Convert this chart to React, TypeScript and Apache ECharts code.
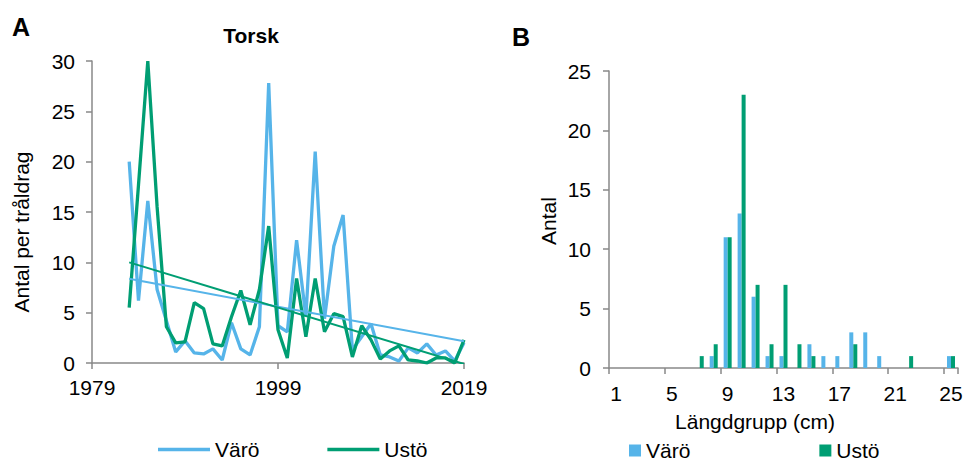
import React, { useEffect, useRef } from 'react';
import * as echarts from 'echarts';

// Panel A: catch per trawl haul (Torsk), 1983–2019
const years = [
  1983, 1984, 1985, 1986, 1987, 1988, 1989, 1990, 1991, 1992,
  1993, 1994, 1995, 1996, 1997, 1998, 1999, 2000, 2001, 2002,
  2003, 2004, 2005, 2006, 2007, 2008, 2009, 2010, 2011, 2012,
  2013, 2014, 2015, 2016, 2017, 2018, 2019,
];
const varoCatch = [
  20.0, 6.2, 16.1, 7.3, 4.2, 1.1, 2.2, 1.0, 0.9, 1.4,
  0.3, 4.0, 1.4, 0.8, 3.6, 27.8, 3.7, 3.1, 12.2, 4.6,
  21.0, 4.4, 11.6, 14.7, 1.3, 2.6, 3.9, 0.8, 0.6, 0.2,
  1.5, 1.0, 1.9, 0.8, 1.2, 0.2, 2.0,
];
const ustoCatch = [
  5.5, 17.7, 30.0, 15.5, 3.6, 2.0, 2.1, 6.0, 5.4, 1.9,
  1.7, 4.6, 7.2, 3.8, 7.3, 13.6, 3.3, 0.5, 8.4, 2.6,
  8.4, 3.1, 4.9, 4.6, 0.6, 3.7, 2.3, 0.4, 1.2, 1.7,
  0.3, 0.2, 0.0, 0.5, 0.5, 0.0, 2.3,
];
const trendYears = [1983, 2019];
const varoTrend = [8.36, 2.15];
const ustoTrend = [10.0, -0.1];
const yearTicks = [1979, 2019];

// Panel B: length distribution
const lengthGroups = [
  '1', '2', '3', '4', '5', '6', '7', '8', '9', '10', '11', '12', '13',
  '14', '15', '16', '17', '18', '19', '20', '21', '22', '23', '24', '25',
];
const varoLength = [0, 0, 0, 0, 0, 0, 0, 1, 11, 13, 6, 1, 1, 0, 2, 1, 1, 3, 3, 1, 0, 0, 0, 0, 1];
const ustoLength = [0, 0, 0, 0, 0, 0, 1, 2, 11, 23, 7, 2, 7, 2, 1, 0, 0, 2, 0, 0, 0, 1, 0, 0, 1];

const BLUE = '#56B4E9';
const GREEN = '#009E73';
const AXIS = '#898989';
const FONT = 'Liberation Sans, Arial, sans-serif';

export default function App() {
  const ref = useRef<HTMLDivElement>(null);

  useEffect(() => {
    if (!ref.current) return;
    const chart = echarts.init(ref.current, undefined, { renderer: 'svg' });

    const axisLine = { show: true, lineStyle: { color: AXIS, width: 1.5 } };
    const axisTick = { show: true, length: 6, lineStyle: { color: AXIS, width: 1.5 } };
    const label = { fontSize: 21, color: '#000', fontFamily: FONT };
    const legendText = { fontSize: 21, color: '#000', fontFamily: FONT };

    const option: any = {
      animation: false,
      textStyle: { fontFamily: FONT },
      grid: [
        { left: 92, top: 61, width: 372, height: 302 },
        { left: 609, top: 71, width: 349, height: 297 },
      ],
      xAxis: [
        {
          gridIndex: 0,
          type: 'value',
          min: yearTicks[0],
          max: yearTicks[1],
          interval: 20,
          axisLine,
          axisTick,
          splitLine: { show: false },
          axisLabel: { ...label, margin: 14, formatter: (v: number) => String(v) },
        },
        {
          gridIndex: 1,
          type: 'category',
          data: lengthGroups,
          boundaryGap: true,
          axisLine,
          axisTick: { ...axisTick, interval: 3, alignWithLabel: false },
          splitLine: { show: false },
          axisLabel: { ...label, interval: 3, margin: 15 },
        },
      ],
      yAxis: [
        {
          gridIndex: 0,
          type: 'value',
          min: 0,
          max: 30,
          interval: 5,
          axisLine,
          axisTick,
          splitLine: { show: false },
          axisLabel: { ...label, margin: 17 },
        },
        {
          gridIndex: 1,
          type: 'value',
          min: 0,
          max: 25,
          interval: 5,
          axisLine,
          axisTick,
          splitLine: { show: false },
          axisLabel: { ...label, margin: 18 },
        },
      ],
      legend: [
        {
          data: [
            { name: 'Värö', icon: 'rect' },
            { name: 'Ustö', icon: 'rect' },
          ],
          left: 158,
          top: 439,
          padding: 0,
          itemWidth: 52,
          itemHeight: 3.3,
          itemGap: 68,
          selectedMode: false,
          textStyle: legendText,
        },
        {
          data: [
            { name: 'Värö_B', icon: 'rect' },
            { name: 'Ustö_B', icon: 'rect' },
          ],
          left: 629,
          top: 440,
          padding: 0,
          itemWidth: 12,
          itemHeight: 12,
          itemGap: 129,
          selectedMode: false,
          formatter: (n: string) => n.replace('_B', ''),
          textStyle: legendText,
        },
      ],
      series: [
        {
          name: 'Värö',
          type: 'line',
          xAxisIndex: 0,
          yAxisIndex: 0,
          symbol: 'none',
          lineStyle: { color: BLUE, width: 3.3 },
          itemStyle: { color: BLUE },
          data: years.map((y, i) => [y, varoCatch[i]]),
        },
        {
          name: 'Ustö',
          type: 'line',
          xAxisIndex: 0,
          yAxisIndex: 0,
          symbol: 'none',
          lineStyle: { color: GREEN, width: 3.3 },
          itemStyle: { color: GREEN },
          data: years.map((y, i) => [y, ustoCatch[i]]),
        },
        {
          name: 'Värö trend',
          type: 'line',
          xAxisIndex: 0,
          yAxisIndex: 0,
          symbol: 'none',
          silent: true,
          lineStyle: { color: BLUE, width: 2 },
          data: trendYears.map((y, i) => [y, varoTrend[i]]),
        },
        {
          name: 'Ustö trend',
          type: 'line',
          xAxisIndex: 0,
          yAxisIndex: 0,
          symbol: 'none',
          silent: true,
          lineStyle: { color: GREEN, width: 2 },
          data: trendYears.map((y, i) => [y, ustoTrend[i]]),
        },
        {
          name: 'Värö_B',
          type: 'bar',
          xAxisIndex: 1,
          yAxisIndex: 1,
          barWidth: 4,
          barGap: '0%',
          itemStyle: { color: BLUE },
          data: varoLength,
        },
        {
          name: 'Ustö_B',
          type: 'bar',
          xAxisIndex: 1,
          yAxisIndex: 1,
          barWidth: 4,
          barGap: '0%',
          itemStyle: { color: GREEN },
          data: ustoLength,
        },
      ],
      graphic: [
        {
          type: 'text', x: 12, y: 27,
          style: { text: 'A', fontSize: 25, fontWeight: 'bold', fontFamily: FONT, fill: '#000', align: 'left', verticalAlign: 'middle' },
        },
        {
          type: 'text', x: 251, y: 35,
          style: { text: 'Torsk', fontSize: 21, fontWeight: 'bold', fontFamily: FONT, fill: '#000', align: 'center', verticalAlign: 'middle' },
        },
        {
          type: 'text', x: 512, y: 37,
          style: { text: 'B', fontSize: 25, fontWeight: 'bold', fontFamily: FONT, fill: '#000', align: 'left', verticalAlign: 'middle' },
        },
        {
          type: 'text', x: 21, y: 232, rotation: Math.PI / 2,
          style: { text: 'Antal per tråldrag', fontSize: 21, fontFamily: FONT, fill: '#000', align: 'center', verticalAlign: 'middle' },
        },
        {
          type: 'text', x: 548, y: 221, rotation: Math.PI / 2,
          style: { text: 'Antal', fontSize: 21, fontFamily: FONT, fill: '#000', align: 'center', verticalAlign: 'middle' },
        },
        {
          type: 'text', x: 755, y: 421,
          style: { text: 'Längdgrupp (cm)', fontSize: 21, fontFamily: FONT, fill: '#000', align: 'center', verticalAlign: 'middle' },
        },
      ],
    };

    chart.setOption(option);
    return () => chart.dispose();
  }, []);

  return (
    <div
      ref={ref}
      style={{ position: 'fixed', left: 0, top: 0, width: 976, height: 461, background: '#fff' }}
    />
  );
}
